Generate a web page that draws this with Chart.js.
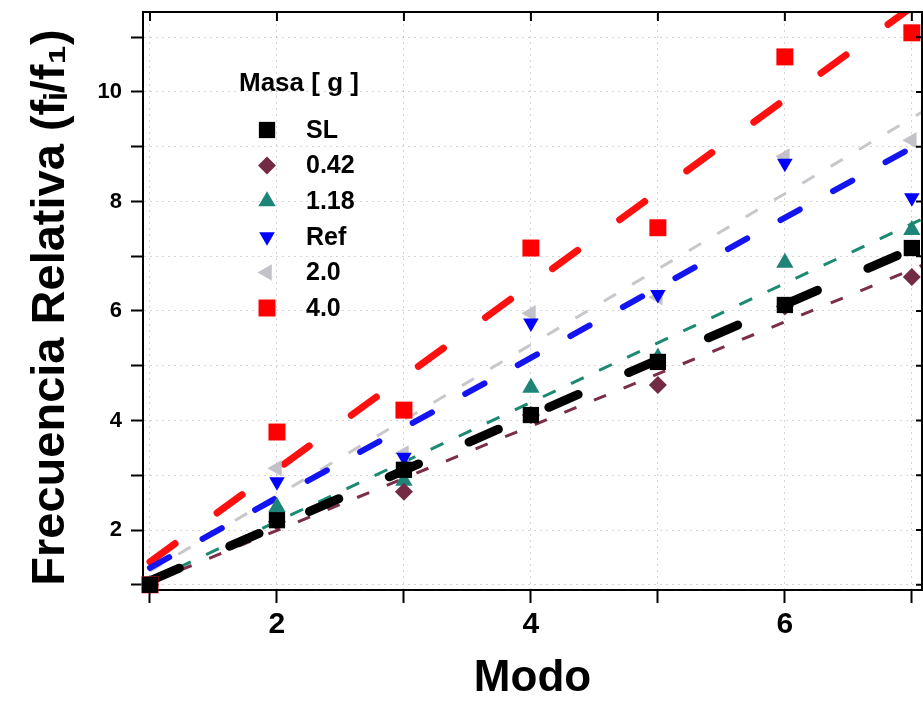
<!DOCTYPE html>
<html>
<head>
<meta charset="utf-8">
<script src="https://cdn.jsdelivr.net/npm/chart.js@4"></script>
<style>
html, body { margin: 0; padding: 0; background: #fff; }
</style>
</head>
<body>
<canvas id="myChart" width="923" height="705"></canvas>
<script>
// measured points, mode 1..7
const modes = [1, 2, 3, 4, 5, 6, 7];
const seriesNames = ['SL', '0.42', '1.18', 'Ref', '2.0', '4.0'];
const valSL  = [1, 2.18, 3.1, 4.1, 5.07, 6.11, 7.15];
const val042 = [1, 2.15, 2.7, 4.1, 4.65, 6.08, 6.62];
const val118 = [1, 2.42, 2.9, 4.6, 5.15, 6.88, 7.48];
const valRef = [1, 2.88, 3.33, 5.78, 6.3, 8.7, 8.07];
const val20  = [1, 3.13, 3.4, 5.96, 6.25, 8.82, 9.12];
const val40  = [1, 3.79, 4.19, 7.15, 7.52, 10.64, 11.08];

// fitted lines, read at both ends
const fitX    = [1, 7.1];
const fitSL   = [1.07, 7.23];
const fit042  = [1.04, 6.85];
const fit118  = [1.07, 7.7];
const fitRef  = [1.31, 9.11];
const fit20   = [1.25, 9.66];
const fit40   = [1.42, 11.72];

const xTickVals = [1, 2, 3, 4, 5, 6, 7];
const xTickLabels = ['2', '4', '6'];
const yTickVals = [1, 2, 3, 4, 5, 6, 7, 8, 9, 10, 11];
const yTickLabels = ['2', '4', '6', '8', '10'];

const legendTitle = 'Masa [ g ]';
const xTitle = 'Modo';
const yTitle = 'Frecuencia Relativa (f\u1D62/f\u2081) ';

const FONT = '"Liberation Sans", Arial, "DejaVu Sans", sans-serif';

const allVals = [valSL, val042, val118, valRef, val20, val40];
const allFits = [fitSL, fit042, fit118, fitRef, fit20, fit40];

const markStyle = [
    { color: '#000000', style: 'rect', rotation: 0, radius: 11.5 },
    { color: '#722a45', style: 'rectRot', rotation: 0, radius: 9 },
    { color: '#1f8478', style: 'triangle', rotation: 0, radius: 10 },
    { color: '#0000ff', style: 'triangle', rotation: 180, radius: 9 },
    { color: '#c2c2c8', style: 'triangle', rotation: 270, radius: 9.5 },
    { color: '#ff0000', style: 'rect', rotation: 0, radius: 12 }
];
const lineStyle = [
    { color: '#000000', width: 9, dash: [32, 55], cap: 'round' },
    { color: '#7a2e48', width: 3, dash: [13, 19], cap: 'butt' },
    { color: '#1a8a70', width: 3, dash: [14, 17], cap: 'butt' },
    { color: '#1414f0', width: 6, dash: [22, 38], cap: 'round' },
    { color: '#c8c8cc', width: 3, dash: [14, 19], cap: 'butt' },
    { color: '#ff1010', width: 7, dash: [31, 52], cap: 'round' }
];

const datasets = [];
seriesNames.forEach((name, i) => {
    const m = markStyle[i];
    datasets.push({
        label: name,
        data: modes.map((x, j) => ({ x: x, y: allVals[i][j] })),
        showLine: false,
        pointStyle: m.style,
        rotation: m.rotation,
        pointRadius: m.radius,
        pointHoverRadius: m.radius,
        pointBorderWidth: 0,
        backgroundColor: m.color,
        borderColor: m.color,
        clip: false,
        order: 0
    });
});
seriesNames.forEach((name, i) => {
    const l = lineStyle[i];
    datasets.push({
        label: 'fit ' + name,
        data: fitX.map((x, j) => ({ x: x, y: allFits[i][j] })),
        showLine: true,
        pointRadius: 0,
        borderColor: l.color,
        borderWidth: l.width,
        borderDash: l.dash,
        borderCapStyle: l.cap,
        clip: 0,
        order: 1
    });
});

// legend drawn inside the plot, top-left
const innerLegend = {
    id: 'innerLegend',
    afterDatasetsDraw(chart) {
        const ctx = chart.ctx;
        ctx.save();
        ctx.fillStyle = '#000';
        ctx.font = 'bold 26px ' + FONT;
        ctx.textBaseline = 'middle';
        ctx.textAlign = 'left';
        ctx.fillText(legendTitle, 239, 84);
        seriesNames.forEach((name, i) => {
            const m = markStyle[i];
            const y = 130 + i * 35.6;
            ctx.fillStyle = m.color;
            ctx.strokeStyle = m.color;
            Chart.helpers.drawPoint(ctx, {
                pointStyle: m.style,
                rotation: m.rotation,
                radius: m.radius,
                borderWidth: 0
            }, 267, y);
            ctx.fillStyle = '#000';
            ctx.font = 'bold 25px ' + FONT;
            ctx.fillText(name, 306, y + 1);
        });
        ctx.restore();
    }
};

// top and right frame with inward ticks
const frame = {
    id: 'frame',
    afterDatasetsDraw(chart) {
        const ctx = chart.ctx;
        const a = chart.chartArea;
        const xs = chart.scales.x;
        const ys = chart.scales.y;
        ctx.save();
        ctx.strokeStyle = '#000';
        ctx.lineWidth = 2;
        ctx.beginPath();
        ctx.moveTo(a.left - 1, a.top);
        ctx.lineTo(a.right, a.top);
        ctx.lineTo(a.right, a.bottom + 1);
        ctx.stroke();
        ctx.beginPath();
        xTickVals.forEach(v => {
            const px = xs.getPixelForValue(v);
            ctx.moveTo(px, a.top);
            ctx.lineTo(px, a.top + 9);
        });
        yTickVals.forEach(v => {
            const py = ys.getPixelForValue(v);
            ctx.moveTo(a.right, py);
            ctx.lineTo(a.right - 6, py);
        });
        ctx.stroke();
        ctx.restore();
    }
};

const ctx = document.getElementById('myChart').getContext('2d');
const config = {
    type: 'scatter',
    data: { datasets: datasets },
    plugins: [innerLegend, frame],
    options: {
        responsive: false,
        animation: false,
        devicePixelRatio: 1,
        layout: { autoPadding: false, padding: { top: 12, right: 1, left: 0, bottom: 0 } },
        plugins: {
            legend: { display: false },
            tooltip: { enabled: false }
        },
        scales: {
            x: {
                type: 'linear',
                min: 0.945,
                max: 7.08,
                afterBuildTicks: (scale) => {
                    scale.ticks = xTickVals.map(v => ({ value: v }));
                },
                afterFit: (scale) => {
                    scale.height = 115;
                    scale.paddingLeft = 0;
                    scale.paddingRight = 0;
                },
                ticks: {
                    color: '#000',
                    padding: 4,
                    maxRotation: 0,
                    autoSkip: false,
                    font: { family: FONT, size: 30, weight: 'bold' },
                    callback: (v) => xTickLabels.includes(String(v)) ? String(v) : ''
                },
                grid: {
                    color: 'rgba(0,0,0,0.16)',
                    lineWidth: 1,
                    tickColor: '#000',
                    tickLength: 13,
                    tickWidth: 2
                },
                border: { display: true, color: '#000', width: 2, dash: [2, 4] },
                title: {
                    display: true,
                    text: xTitle,
                    color: '#000',
                    font: { family: FONT, size: 44, weight: 'bold' },
                    padding: { top: 0, bottom: 0 }
                }
            },
            y: {
                type: 'linear',
                min: 0.905,
                max: 11.46,
                afterBuildTicks: (scale) => {
                    scale.ticks = yTickVals.map(v => ({ value: v }));
                },
                afterFit: (scale) => {
                    scale.width = 143;
                    scale.paddingTop = 0;
                    scale.paddingBottom = 0;
                },
                ticks: {
                    color: '#000',
                    padding: 9,
                    autoSkip: false,
                    font: { family: FONT, size: 22, weight: 'bold' },
                    callback: (v) => yTickLabels.includes(String(v)) ? String(v) : ''
                },
                grid: {
                    color: 'rgba(0,0,0,0.16)',
                    lineWidth: 1,
                    tickColor: '#000',
                    tickLength: 12,
                    tickWidth: 2
                },
                border: { display: true, color: '#000', width: 2, dash: [2, 4] },
                title: {
                    display: true,
                    text: yTitle,
                    color: '#000',
                    font: { family: FONT, size: 47, weight: 'bold' },
                    padding: { top: 23, bottom: 0 }
                }
            }
        }
    }
};
const myChart = new Chart(ctx, config);
</script>
</body>
</html>
